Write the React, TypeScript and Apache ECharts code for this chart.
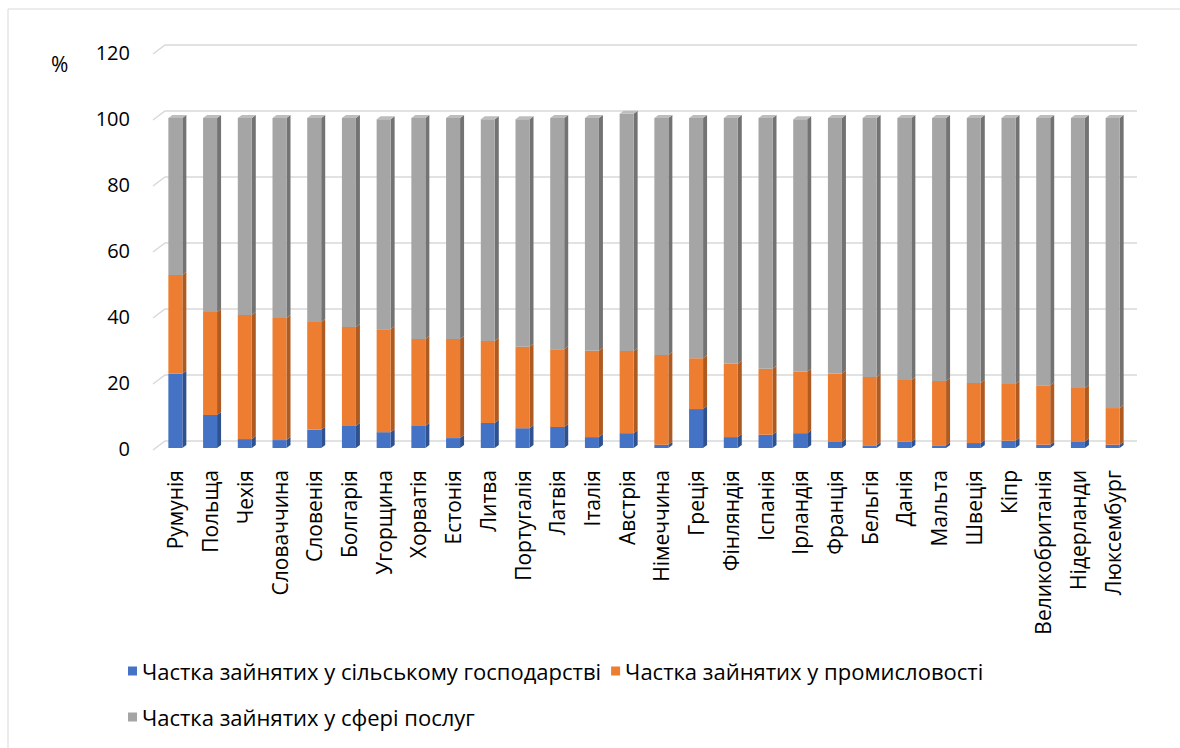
import React, { useEffect, useRef } from "react";
import * as echarts from "echarts";

const countries = [
  "Румунія", "Польща", "Чехія", "Словаччина", "Словенія", "Болгарія", "Угорщина",
  "Хорватія", "Естонія", "Литва", "Португалія", "Латвія", "Італія", "Австрія",
  "Німеччина", "Греція", "Фінляндія", "Іспанія", "Ірландія", "Франція", "Бельгія",
  "Данія", "Мальта", "Швеція", "Кіпр", "Великобританія", "Нідерланди", "Люксембург",
];

const agriculture = [
  22.5, 10, 2.7, 2.4, 5.5, 6.7, 4.8, 6.7, 3, 7.6, 6, 6.4, 3.3, 4.5,
  1, 11.8, 3.3, 4, 4.5, 2, 0.8, 1.9, 0.8, 1.5, 2.2, 1, 2, 1,
];

const industry = [
  29.9, 31.2, 37.6, 37.0, 32.7, 30.0, 31.2, 26.3, 30.0, 24.8, 24.7, 23.5, 26.2, 24.9,
  27.2, 15.4, 22.2, 20.0, 18.6, 20.6, 20.7, 18.7, 19.5, 18.2, 17.2, 18.0, 16.2, 11.1,
];

const services = [
  47.6, 58.8, 59.7, 60.6, 61.8, 63.3, 63.6, 67, 67, 67.2, 68.9, 70.1, 70.5, 71.9,
  71.8, 72.8, 74.5, 76, 76.5, 77.4, 78.5, 79.4, 79.7, 80.3, 80.6, 81, 81.8, 87.9,
];

const yTicks = [0, 20, 40, 60, 80, 100, 120];

const seriesNames = [
  "Частка зайнятих у сільському господарстві",
  "Частка зайнятих у промисловості",
  "Частка зайнятих у сфері послуг",
];

const FONT = "'Open Sans', 'Liberation Sans', sans-serif";

const palettes = [
  { front: "#4472C4", side: "#2F528F", top: "#6A8FD3" },
  { front: "#ED7D31", side: "#AE5A21", top: "#F29A5E" },
  { front: "#A5A5A5", side: "#737373", top: "#BDBDBD" },
];

function App() {
  const ref = useRef<HTMLDivElement>(null);

  useEffect(() => {
    if (!ref.current) return;
    const chart = echarts.init(ref.current, undefined, { renderer: "svg" });

    const stacks = [agriculture, industry, services];
    const stackedData = stacks.map((arr, si) =>
      arr.map((v, i) => {
        let base = 0;
        for (let k = 0; k < si; k++) base += stacks[k][i];
        return [i, base, base + v];
      })
    );

    const barSeries = stackedData.map((data, si) => ({
      type: "custom",
      name: seriesNames[si],
      color: palettes[si].front,
      itemStyle: { color: palettes[si].front },
      encode: { x: 0, y: [1, 2] },
      data,
      z: 3,
      renderItem: (params: any, api: any) => {
        const idx = api.value(0);
        const base = api.value(1);
        const top = api.value(2);
        const p0 = api.coord([idx, base]);
        const p1 = api.coord([idx, top]);
        const c = p0[0];
        const hw = 7;
        const d = 4;
        const dy = 3;
        const xl = c - hw;
        const xr = c + hw;
        const yb = p0[1];
        const yt = p1[1];
        const children: any[] = [
          {
            type: "polygon",
            shape: { points: [[xr, yt], [xr + d, yt - dy], [xr + d, yb - dy], [xr, yb]] },
            style: { fill: palettes[si].side },
          },
          {
            type: "rect",
            shape: { x: xl, y: yt, width: xr - xl, height: yb - yt },
            style: { fill: palettes[si].front },
          },
        ];
        if (si === stacks.length - 1) {
          children.push({
            type: "polygon",
            shape: { points: [[xl, yt], [xl + d, yt - dy], [xr + d, yt - dy], [xr, yt]] },
            style: { fill: palettes[si].top },
          });
        }
        return { type: "group", children };
      },
    }));

    const gridSeries = {
      type: "custom",
      name: "grid",
      silent: true,
      z: 1,
      encode: { x: 0, y: 1 },
      data: yTicks.map((v) => [0, v]),
      renderItem: (params: any, api: any) => {
        const cs = params.coordSys;
        const y = api.coord([0, api.value(1)])[1];
        return {
          type: "polyline",
          shape: {
            points: [
              [cs.x - 5, y + 2],
              [cs.x + 7, y - 7],
              [cs.x + cs.width + 7, y - 7],
            ],
          },
          style: { stroke: "#D9D9D9", lineWidth: 1.5, fill: "none" },
        };
      },
    };

    const legendBase = {
      icon: "rect",
      itemWidth: 9,
      itemHeight: 9,
      itemGap: 10,
      padding: 0,
      left: 128,
      textStyle: { fontSize: 22, color: "#000000", fontFamily: FONT },
    };

    chart.setOption({
      animation: false,
      backgroundColor: "#ffffff",
      textStyle: { fontFamily: FONT },
      grid: { left: 158, right: 50, top: 52, bottom: 300, containLabel: false },
      xAxis: {
        type: "category",
        data: countries,
        axisLine: { show: false },
        axisTick: { show: false },
        splitLine: { show: false },
        axisLabel: {
          rotate: 90,
          interval: 0,
          margin: 22,
          fontSize: 21,
          color: "#000000",
          fontFamily: FONT,
        },
      },
      yAxis: {
        type: "value",
        min: 0,
        max: 120,
        interval: 20,
        axisLine: { show: false },
        axisTick: { show: false },
        splitLine: { show: false },
        axisLabel: {
          fontSize: 20,
          color: "#000000",
          margin: 28,
          fontFamily: FONT,
        },
      },
      legend: [
        { ...legendBase, data: [seriesNames[0], seriesNames[1]], top: 660 },
        { ...legendBase, data: [seriesNames[2]], top: 706 },
      ],
      graphic: [
        {
          type: "rect",
          shape: { x: 8, y: 9, width: 1300, height: 900 },
          style: { fill: "none", stroke: "#D9D9D9", lineWidth: 1 },
          silent: true,
        },
        {
          type: "text",
          x: 51,
          y: 53,
          style: { text: "%", fontSize: 21, fill: "#000000", fontFamily: FONT },
        },
      ],
      series: [gridSeries, ...barSeries],
    });

    return () => chart.dispose();
  }, []);

  return (
    <div
      ref={ref}
      style={{ position: "absolute", left: 0, top: 0, width: 1180, height: 748 }}
    />
  );
}

export default App;
